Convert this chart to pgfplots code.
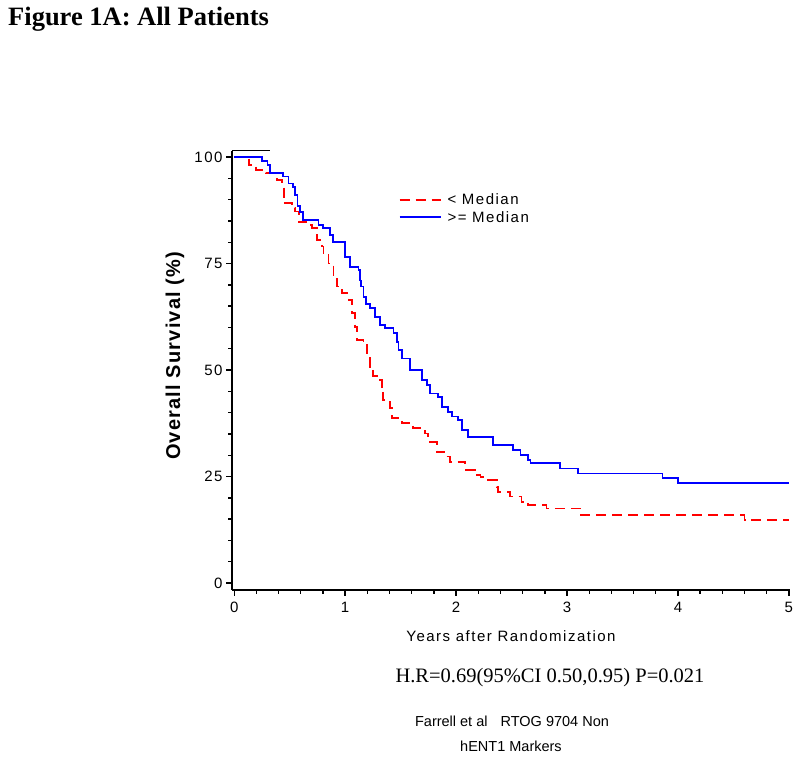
\documentclass[border=0pt]{standalone}
\usepackage{fontspec}
\setmainfont{Liberation Serif}
\newfontfamily\sas[LetterSpace=10]{Liberation Sans}
\newfontfamily\sasy[LetterSpace=6]{Liberation Sans}
\usepackage{pgfplots}
\pgfplotsset{compat=1.18}
\begin{document}
\begin{tikzpicture}
\path[use as bounding box] (0,0) rectangle (800bp,764bp);
\node[anchor=base west, inner sep=0pt, font=\fontsize{26.5bp}{30bp}\selectfont\bfseries] at (8bp,738bp) {Figure 1A: All Patients};
\begin{axis}[
  at={(232bp,174bp)}, anchor=south west,
  scale only axis, width=558bp, height=439.3bp,
  xmin=-0.02, xmax=5.01, ymin=-1.64, ymax=101.48,
  axis x line*=bottom, axis y line*=left,
  axis line style={line width=2bp, black},
  xtick={0,1,2,3,4,5}, ytick={0,25,50,75,100},
  minor x tick num=4, minor y tick num=4,
  tick align=outside,
  major tick length=6bp, minor tick length=4bp,
  every tick/.style={line width=1.4bp, black},
  /pgf/number format/assume math mode=true,
  ticklabel style={font=\sas\fontsize{15bp}{17bp}\selectfont},
  xticklabel style={yshift=-3bp},
  xlabel={Years after Randomization},
  xlabel style={at={(axis description cs:0.5,0)}, anchor=base, yshift=-52bp, font=\sas\fontsize{15bp}{17bp}\selectfont},
  ylabel={Overall Survival (\%)},
  ylabel style={at={(axis description cs:0,0.533)}, anchor=center, yshift=57bp, font=\sasy\bfseries\fontsize{20bp}{22bp}\selectfont},
  clip=false,
  legend style={at={(axis cs:1.48,91.85)}, anchor=north west, draw=none, fill=none, inner sep=0pt, row sep=1bp, font=\sas\fontsize{15bp}{16bp}\selectfont, cells={anchor=west}},
  legend image code/.code={\draw[#1, line width=2bp] (0bp,0bp) -- (41bp,0bp); \path (45bp,0bp);},
]
\addplot[red, line width=1.9bp, dash pattern=on 10bp off 6bp, const plot] coordinates {
(0,100) (0.13,98.1) (0.20,97.0) (0.29,96.2) (0.385,94.6) (0.43,93.0) (0.445,89.1)
(0.52,88.0) (0.55,87.2) (0.58,84.8) (0.67,84.0) (0.70,83.3) (0.745,80.5) (0.79,79.0)
(0.805,77.0) (0.85,75.0) (0.895,71.9) (0.925,69.6) (0.97,68.0) (1.03,66.4) (1.06,63.3)
(1.085,60.0) (1.105,57.0) (1.165,56.3) (1.195,53.5) (1.225,50.8) (1.255,48.5) (1.285,47.7)
(1.33,46.1) (1.345,43.0) (1.405,41.0) (1.42,38.7) (1.51,37.5) (1.615,36.3) (1.72,35.1)
(1.75,34.0) (1.765,33.2) (1.825,30.8) (1.915,29.7) (1.945,28.5) (2.08,26.5) (2.17,25.4)
(2.22,24.9) (2.29,24.2) (2.365,22.6) (2.38,21.4) (2.485,20.3) (2.59,19.1) (2.65,18.3)
(2.815,17.5) (3.12,16.0) (4.60,14.8) (5.00,14.8)
};
\addlegendentry{< Median}
\addplot[blue, line width=1.8bp, const plot] coordinates {
(0,100) (0.25,99.1) (0.30,98.1) (0.32,96.2) (0.44,95.4) (0.49,93.8) (0.53,93.0)
(0.55,91.0) (0.57,88.5) (0.59,87.0) (0.62,85.2) (0.76,84.0) (0.80,83.3) (0.865,81.7)
(0.89,80.0) (1.0,76.6) (1.045,74.2) (1.12,73.5) (1.135,71.0) (1.14,69.6) (1.165,67.2)
(1.19,65.5) (1.225,64.5) (1.27,62.5) (1.315,60.6) (1.36,59.8) (1.435,58.6) (1.465,56.5)
(1.48,54.7) (1.51,52.7) (1.585,50.0) (1.69,47.7) (1.735,46.5) (1.765,44.5) (1.84,43.7)
(1.87,41.4) (1.93,40.2) (1.96,39.1) (2.02,38.3) (2.05,35.9) (2.11,34.3) (2.33,32.4)
(2.51,31.2) (2.58,30.0) (2.65,28.9) (2.67,28.1) (2.94,26.9) (3.10,25.7) (3.86,24.7)
(4.00,23.5) (5.00,23.5)
};
\addlegendentry{>= Median}
\addplot[black, line width=1.4bp, forget plot] coordinates {(-0.02,101.48) (0.324,101.48)};
\end{axis}
\node[anchor=base, inner sep=0pt, font=\fontsize{20.5bp}{24bp}\selectfont] at (550bp,81bp) {H.R=0.69(95\%CI 0.50,0.95) P=0.021};
\node[anchor=base, inner sep=0pt, font=\fontspec{Liberation Sans}\fontsize{14.5bp}{17bp}\selectfont] at (512bp,38bp) {Farrell et al\hspace{0.9em}RTOG 9704 Non};
\node[anchor=base, inner sep=0pt, font=\fontspec{Liberation Sans}\fontsize{14.5bp}{17bp}\selectfont] at (511bp,13bp) {hENT1 Markers};
\end{tikzpicture}
\end{document}
